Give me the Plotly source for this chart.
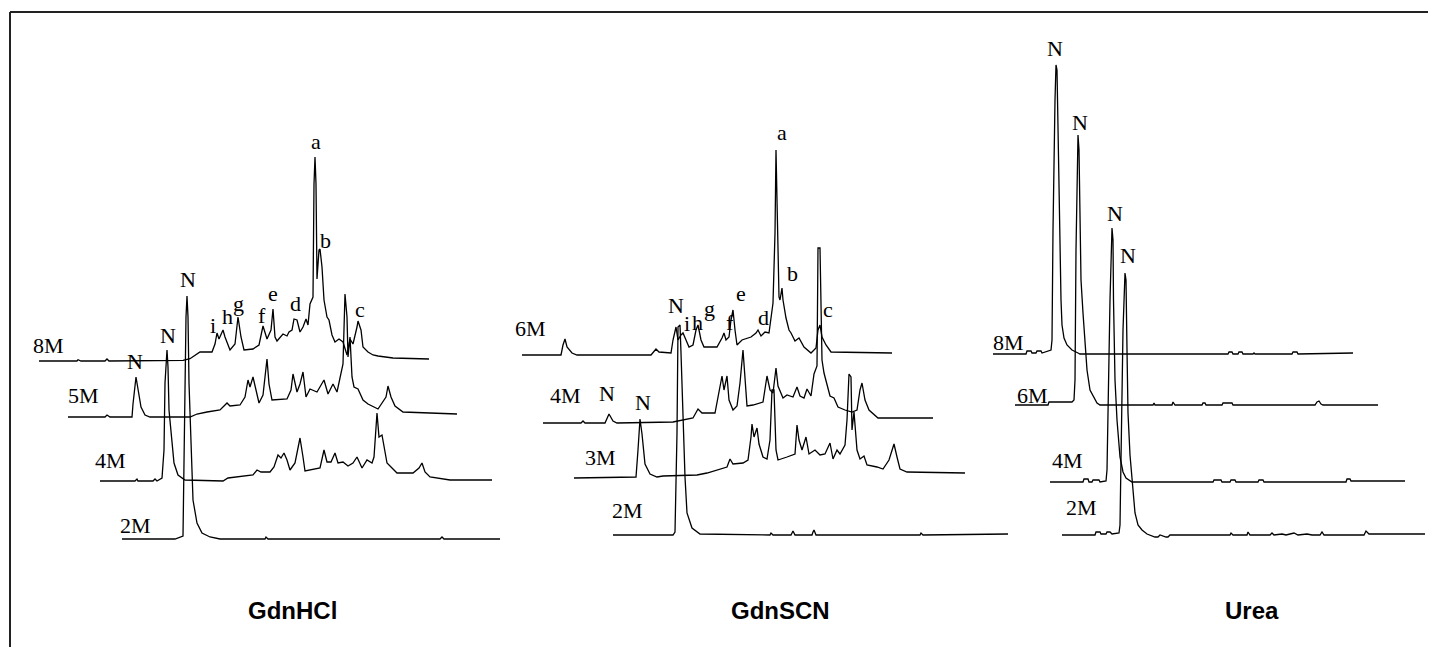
import plotly.graph_objects as go

# ---------------- data: (time, signal) samples for each chromatogram ----------------
GDNHCL_8M = [(0,0),(38,0),(39,1.3),(42,0),(66,0),(68,2),(70,0),(144,0.7),(151,2.3),(161,9),(173,9),(176,17),(178,28),(180,22),(184,31),(186,24),(191,11),(196,17),(199,44),(202,24),(205,11),(214,12),(220,16),(224,35),(228,22),(232,31),(234,52),(236,24),(238,20),(244,27),(248,25),(250,29),(253,31),(255,42),(258,41),(261,29),(264,34),(267,42),(269,36),(271,57),(274,64),(275,177),(276,204),(277,177),(278,82),(280,111),(281,112),(283,94),(285,61),(288,44),(290,41),(293,26),(296,19),(300,22),(304,19),(308,6),(311,22),(314,17),(318,34),(319,40),(322,31),(324,14),(329,9),(334,6),(339,5),(354,3),(390,2)]
GDNHCL_5M = [(0,0),(37,0),(39,2),(42,0),(64,0),(65,13),(68,40),(70,27),(73,10),(77,2),(82,0),(122,0),(129,3),(139,5),(152,7),(157,12),(159,14),(162,11),(172,12),(177,20),(180,37),(182,30),(185,40),(188,27),(191,14),(195,22),(199,58),(201,33),(204,17),(219,18),(223,27),(225,43),(229,25),(232,33),(235,45),(238,20),(242,28),(249,25),(256,37),(260,23),(265,33),(269,25),(272,40),(275,53),(277,123),(279,100),(280,60),(282,80),(284,40),(286,30),(290,28),(295,17),(300,13),(310,8),(318,20),(320,31),(323,20),(327,11),(335,5),(389,3)]
GDNHCL_4M = [(0,0),(35,0),(37,2),(38,0),(53,0),(55,2),(57,0),(62,3),(64,31),(65,98),(67,131),(68,114),(69,71),(72,38),(74,18),(78,6),(85,1),(123,0),(128,3),(153,6),(157,11),(161,9),(170,9),(174,14),(178,26),(181,23),(184,28),(187,21),(190,11),(195,18),(200,43),(203,24),(205,10),(220,13),(224,31),(227,19),(231,19),(235,28),(238,18),(243,19),(248,15),(253,18),(257,24),(262,13),(267,21),(272,18),(274,24),(277,68),(279,44),(282,46),(284,34),(287,18),(292,13),(297,8),(313,8),(319,13),(322,18),(325,9),(330,4),(350,1),(392,1)]
GDNHCL_2M = [(0,0),(53,0),(61,3),(62,89),(64,222),(65,243),(66,222),(67,156),(69,89),(71,39),(75,16),(80,6),(88,2),(98,0),(143,0),(144,2),(146,0),(318,0),(320,2),(322,0),(378,0)]

GDNSCN_6M = [(0,0),(39,0),(41,10),(43,16),(45,8),(50,2),(55,0),(129,0),(134,6),(137,3),(149,2),(151,15),(154,28),(156,15),(159,20),(161,22),(164,15),(167,8),(171,10),(174,25),(176,30),(179,15),(182,8),(195,8),(200,17),(202,22),(204,15),(207,18),(209,35),(211,45),(213,25),(215,10),(220,15),(229,18),(234,22),(236,25),(239,19),(243,23),(247,22),(249,35),(251,52),(253,122),(254,205),(255,155),(257,58),(258,55),(260,67),(261,55),(264,37),(267,25),(269,22),(273,14),(277,17),(282,8),(289,2),(294,7),(296,25),(298,30),(300,18),(304,10),(309,3),(370,2)]
GDNSCN_4M = [(0,0),(38,0),(40,2),(42,0),(62,0),(66,9),(70,2),(74,0),(130,1),(140,3),(150,5),(155,14),(159,10),(172,10),(176,30),(179,47),(181,33),(184,47),(186,23),(190,13),(194,17),(197,40),(200,73),(202,40),(204,17),(210,18),(220,21),(224,47),(227,33),(230,30),(233,55),(235,37),(240,25),(244,28),(250,26),(254,36),(257,27),(261,25),(264,34),(268,27),(271,49),(274,57),(275,175),(277,175),(279,63),(281,50),(284,37),(287,27),(291,25),(295,16),(302,13),(309,11),(314,13),(317,33),(319,40),(322,23),(326,13),(335,5),(390,5)]
GDNSCN_3M = [(0,0),(62,1),(64,28),(66,59),(68,44),(71,14),(76,4),(83,1),(89,2),(123,3),(133,5),(153,11),(156,19),(159,14),(169,15),(174,18),(177,41),(178,54),(180,41),(183,50),(185,34),(189,21),(193,19),(196,38),(198,88),(200,88),(202,28),(204,18),(213,21),(221,24),(223,53),(225,38),(228,28),(232,41),(235,24),(241,28),(246,23),(251,24),(256,35),(259,19),(263,28),(266,24),(271,33),(273,58),(275,104),(277,101),(278,48),(280,66),(283,28),(286,19),(290,22),(293,13),(303,11),(309,9),(315,18),(320,34),(323,21),(326,9),(333,6),(391,5)]
GDNSCN_2M = [(0,0),(60,0),(62,3),(64,102),(65,208),(67,210),(68,182),(70,118),(72,58),(74,22),(79,7),(87,1),(157,0),(158,2),(160,0),(178,0),(179,2),(180,4),(182,0),(199,0),(200,3),(201,5),(203,0),(307,0),(308,2),(310,0),(395,1)]

UREA_8M = [(0,0),(33,0),(34,3),(38,3),(39,1),(43,1),(44,3),(48,3),(49,1),(53,2),(55,3),(58,4),(59,14),(60,124),(62,254),(63,289),(64,284),(65,224),(66,154),(67,84),(68,54),(69,29),(71,16),(74,9),(79,4),(85,1),(87,0),(235,0),(236,2),(239,2),(240,0),(245,0),(246,2),(249,2),(250,0),(260,0),(261,1),(262,0),(299,0),(300,2),(304,2),(305,0),(360,1)]
UREA_6M = [(0,0),(33,0),(34,3),(57,3),(59,5),(60,25),(61,155),(62,245),(63,270),(64,255),(65,175),(66,125),(68,92),(70,65),(72,35),(75,15),(79,7),(82,2),(85,0),(138,0),(139,2),(140,0),(157,0),(158,3),(160,0),(187,0),(188,2),(190,2),(191,0),(207,0),(208,2),(217,2),(218,0),(300,0),(302,3),(304,4),(306,1),(308,0),(363,0)]
UREA_4M = [(0,0),(33,0),(34,3),(38,3),(39,0),(42,0),(43,2),(49,2),(50,0),(56,1),(57,12),(58,82),(60,182),(62,254),(63,242),(63.5,182),(65,102),(67,62),(70,25),(73,10),(76,4),(82,0),(163,0),(164,2),(171,2),(172,0),(180,0),(181,2),(185,2),(186,0),(208,0),(209,2),(213,2),(214,0),(296,0),(297,3),(300,3),(301,1),(355,1)]
UREA_2M = [(0,0),(33,0),(34,3),(38,3),(39,1),(44,1),(45,3),(48,3),(50,1),(57,2),(58,10),(59,85),(61,205),(63,262),(64,255),(65,185),(66,122),(68,80),(70,55),(73,22),(76,10),(80,5),(85,1),(88,0),(91,-1),(93,-2),(96,-2),(98,0),(104,-2),(106,-2),(108,0),(168,0),(169,2),(171,0),(185,0),(186,3),(188,0),(208,0),(210,2),(212,0),(220,1),(224,0),(232,2),(236,0),(245,1),(250,0),(258,0),(260,3),(262,0),(302,0),(304,4),(307,1),(363,1)]

# ---------------- layout: where each chromatogram is stacked (x start, baseline) ----------------
STACK = [
    (GDNHCL_8M, 39, 361), (GDNHCL_5M, 68, 417), (GDNHCL_4M, 100, 481), (GDNHCL_2M, 122, 539),
    (GDNSCN_6M, 522, 355), (GDNSCN_4M, 543, 423), (GDNSCN_3M, 574, 478), (GDNSCN_2M, 613, 535),
    (UREA_8M, 993, 354), (UREA_6M, 1015, 405), (UREA_4M, 1050, 482), (UREA_2M, 1062, 535),
]

SERIF_LABELS = [
    ("8M", 48, 345), ("5M", 83, 395), ("4M", 110, 460), ("2M", 135, 525),
    ("N", 135, 361), ("N", 168, 335), ("N", 188, 279),
    ("i", 213, 325), ("h", 227, 316), ("g", 238, 303), ("f", 262, 315), ("e", 273, 293),
    ("d", 295, 303), ("a", 316, 141), ("b", 325, 240), ("c", 360, 309),
    ("6M", 530, 328), ("4M", 565, 395), ("3M", 600, 457), ("2M", 627, 510),
    ("N", 607, 393), ("N", 643, 402), ("N", 676, 305),
    ("i", 687, 323), ("h", 697, 322), ("g", 709, 308), ("f", 730, 322), ("e", 741, 293),
    ("d", 763, 317), ("a", 782, 132), ("b", 792, 273), ("c", 828, 309),
    ("N", 1055, 48), ("N", 1080, 122), ("N", 1115, 213), ("N", 1128, 255),
    ("8M", 1008, 342), ("6M", 1032, 395), ("4M", 1067, 460), ("2M", 1081, 507),
]
TITLES = [("GdnHCl", 292, 610), ("GdnSCN", 780, 610), ("Urea", 1252, 610)]

# page pixels: the browser puts an 8px margin round the plot, so the
# axes are set up so that data units equal page pixels
PAGE_W, PAGE_H, PAD = 1436, 655, 8
fig = go.Figure()
for data, x0, y0 in STACK:
    t = [p[0] for p in data]
    s = [p[1] for p in data]
    fig.add_trace(go.Scatter(
        x=[x0 + v for v in t], y=[y0 - v for v in s], mode="lines",
        line=dict(color="#000000", width=1.3), hoverinfo="skip", showlegend=False))

ann = []
for txt, x, y in SERIF_LABELS:
    ann.append(dict(text=txt, x=x, y=y, xref="x", yref="y", showarrow=False,
                    xanchor="center", yanchor="middle",
                    font=dict(family="Liberation Serif, Times New Roman, serif", size=22, color="#000000")))
for txt, x, y in TITLES:
    ann.append(dict(text="<b>" + txt + "</b>", x=x, y=y, xref="x", yref="y", showarrow=False,
                    xanchor="center", yanchor="middle",
                    font=dict(family="Liberation Sans Narrow, Liberation Sans, Arial, sans-serif", size=24, color="#000000")))

shapes = [
    dict(type="line", x0=10, y0=12, x1=PAGE_W, y1=12, xref="x", yref="y", line=dict(color="#222222", width=2)),
    dict(type="line", x0=10, y0=12, x1=10, y1=PAGE_H, xref="x", yref="y", line=dict(color="#222222", width=2)),
]

fig.update_layout(
    width=PAGE_W - 2 * PAD, height=PAGE_H - 2 * PAD, margin=dict(l=0, r=0, t=0, b=0),
    paper_bgcolor="white", plot_bgcolor="white",
    xaxis=dict(range=[PAD, PAGE_W - PAD], visible=False, fixedrange=True),
    yaxis=dict(range=[PAGE_H - PAD, PAD], visible=False, fixedrange=True),
    annotations=ann, shapes=shapes, showlegend=False,
)
fig.write_html("out.html")
